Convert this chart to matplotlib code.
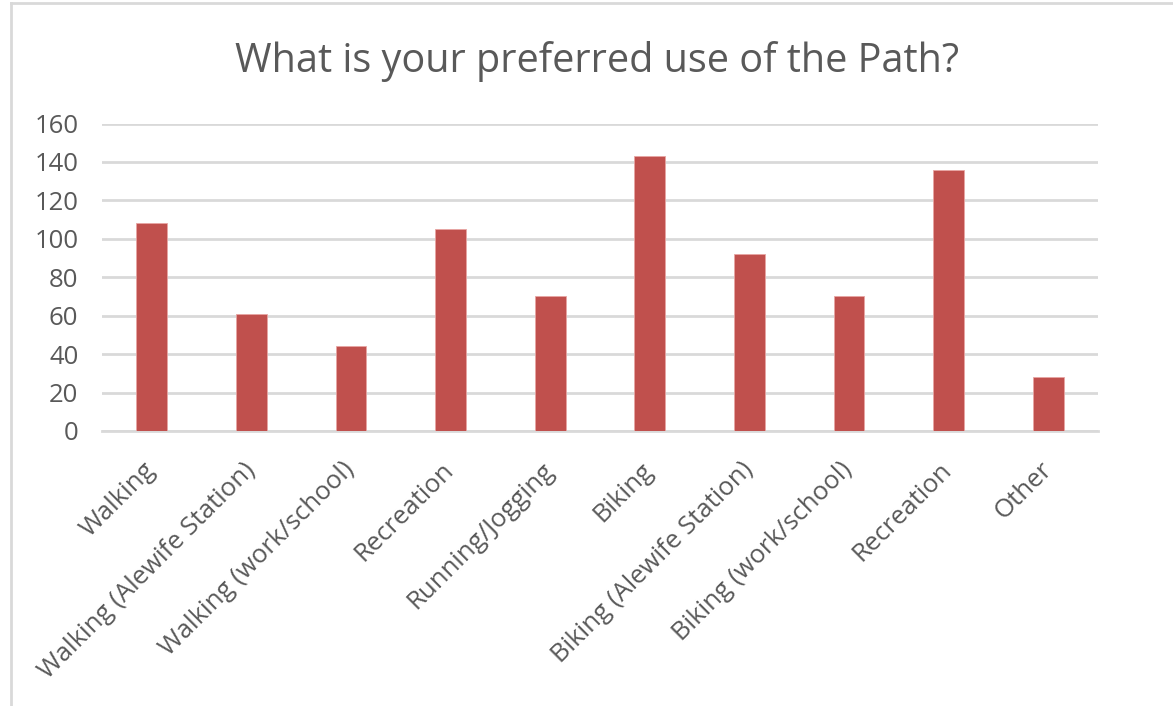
import matplotlib
matplotlib.use('Agg')
import matplotlib.pyplot as plt
from matplotlib.lines import Line2D
from matplotlib.transforms import ScaledTranslation

# --- Data ---
categories = ['Walking', 'Walking (Alewife Station)', 'Walking (work/school)',
              'Recreation', 'Running/Jogging', 'Biking',
              'Biking (Alewife Station)', 'Biking (work/school)',
              'Recreation', 'Other']
counts = [108, 61, 44, 105, 70, 143, 92, 70, 136, 28]
y_ticks = [0, 20, 40, 60, 80, 100, 120, 140, 160]

title = 'What is your preferred use of the Path?'

# --- Style ---
bar_color = '#C0504D'
grid_color = '#D9D9D9'
text_color = '#595959'
plt.rcParams['font.family'] = ['Open Sans', 'DejaVu Sans']

W, H = 1173, 706
fig = plt.figure(figsize=(W / 100, H / 100), dpi=100)
fig.patch.set_facecolor('white')

ax = fig.add_axes([102 / W, 1 - 431 / H, 996 / W, 307.5 / H])

x = list(range(len(categories)))
ax.bar(x, counts, width=0.31, color=bar_color, edgecolor='#E8A5A3', linewidth=0.6, zorder=3)

ax.set_xlim(-0.5, len(categories) - 0.5)
ax.set_ylim(0, 160)
ax.set_yticks(y_ticks)
ax.yaxis.grid(True, color=grid_color, linewidth=2)
ax.set_axisbelow(True)

for s in ['top', 'right', 'left']:
    ax.spines[s].set_visible(False)
ax.spines['bottom'].set_color(grid_color)
ax.spines['bottom'].set_linewidth(2)

ax.tick_params(axis='both', length=0, labelsize=18.5, labelcolor=text_color)
ax.tick_params(axis='y', pad=17)
ax.set_xticks(x)
ax.set_xticklabels(categories, rotation=45, ha='right', va='top',
                   rotation_mode='anchor')
ax.tick_params(axis='x', pad=19)
# nudge the rotated labels a little to the left, like the original
shift = ScaledTranslation(-9 / 100, 0, fig.dpi_scale_trans)
for lab in ax.get_xticklabels():
    lab.set_transform(lab.get_transform() + shift)

fig.text(597 / W, 1 - 72 / H, title, ha='center', va='baseline',
         fontsize=28.5, color=text_color)

# chart border (cropped on right and bottom)
fig.add_artist(Line2D([11 / W, 11 / W], [0, 1 - 3 / H], color=grid_color, linewidth=2))
fig.add_artist(Line2D([11 / W, 1], [1 - 3 / H, 1 - 3 / H], color=grid_color, linewidth=2))

fig.savefig('out.png', dpi=100, facecolor='white')
